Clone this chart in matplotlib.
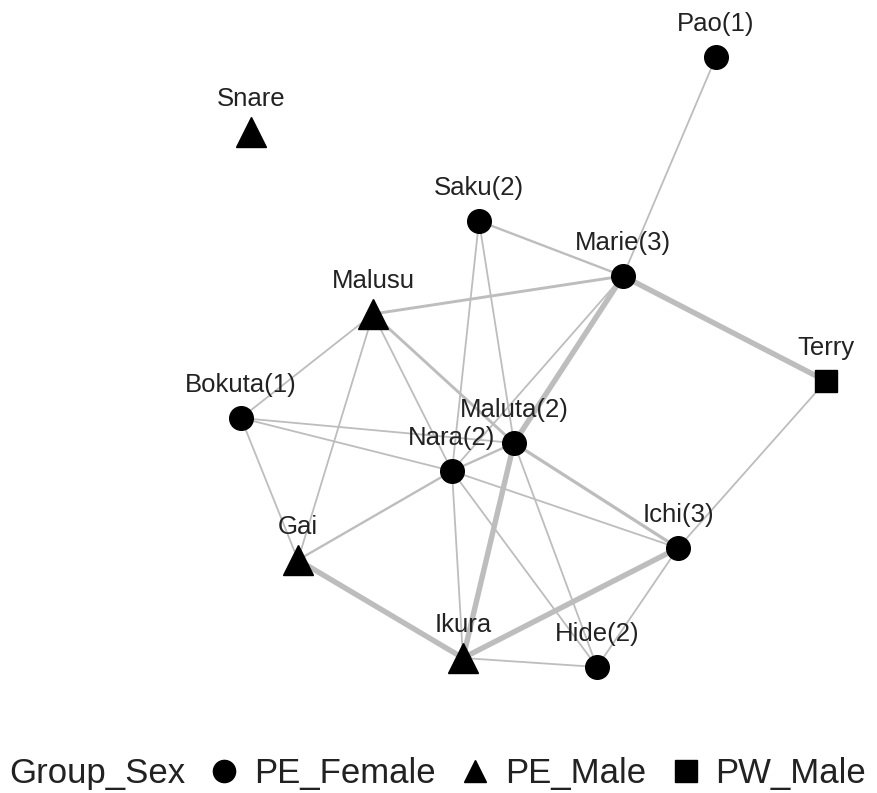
import matplotlib.pyplot as plt
from matplotlib.lines import Line2D

plt.rcParams['font.family'] = ['Liberation Sans', 'DejaVu Sans']

# node layout (pixel positions)
names = ['Pao(1)', 'Snare', 'Saku(2)', 'Marie(3)', 'Malusu', 'Terry', 'Bokuta(1)',
         'Maluta(2)', 'Nara(2)', 'Ichi(3)', 'Gai', 'Ikura', 'Hide(2)']
node_x = [716, 251, 479, 623, 373, 826, 241, 514, 452, 678, 298, 463, 597]
node_y = [57, 132, 221, 276, 314, 381, 418, 443, 471, 548, 560, 658, 667]
group = ['PE_Female', 'PE_Male', 'PE_Female', 'PE_Female', 'PE_Male', 'PW_Male', 'PE_Female',
         'PE_Female', 'PE_Female', 'PE_Female', 'PE_Male', 'PE_Male', 'PE_Female']

# edges: (from, to, weight)
edges = [
    ('Pao(1)', 'Marie(3)', 1),
    ('Saku(2)', 'Marie(3)', 1.3),
    ('Saku(2)', 'Nara(2)', 1),
    ('Saku(2)', 'Maluta(2)', 1),
    ('Marie(3)', 'Malusu', 1.6),
    ('Marie(3)', 'Terry', 3),
    ('Marie(3)', 'Maluta(2)', 3),
    ('Marie(3)', 'Nara(2)', 1),
    ('Malusu', 'Bokuta(1)', 1),
    ('Malusu', 'Gai', 1),
    ('Malusu', 'Nara(2)', 1),
    ('Malusu', 'Maluta(2)', 1.6),
    ('Bokuta(1)', 'Nara(2)', 1),
    ('Bokuta(1)', 'Maluta(2)', 1),
    ('Bokuta(1)', 'Gai', 1),
    ('Nara(2)', 'Gai', 1.3),
    ('Nara(2)', 'Maluta(2)', 1.3),
    ('Nara(2)', 'Ikura', 1),
    ('Nara(2)', 'Hide(2)', 1),
    ('Nara(2)', 'Ichi(3)', 1),
    ('Maluta(2)', 'Ichi(3)', 1.8),
    ('Maluta(2)', 'Hide(2)', 1),
    ('Maluta(2)', 'Ikura', 3),
    ('Gai', 'Ikura', 3),
    ('Ikura', 'Ichi(3)', 3),
    ('Ikura', 'Hide(2)', 1),
    ('Ichi(3)', 'Hide(2)', 1),
    ('Ichi(3)', 'Terry', 1),
]

markers = {'PE_Female': 'o', 'PE_Male': '^', 'PW_Male': 's'}
msizes = {'PE_Female': 17, 'PE_Male': 21, 'PW_Male': 16}

fig = plt.figure(figsize=(8.77, 7.93), dpi=100)
ax = fig.add_axes([0, 0, 1, 1])
ax.set_xlim(0, 877)
ax.set_ylim(793, 0)
ax.axis('off')

pos = {n: (x, y) for n, x, y in zip(names, node_x, node_y)}
for a, b, w in edges:
    ax.plot([pos[a][0], pos[b][0]], [pos[a][1], pos[b][1]],
            color='#bdbdbd', lw=1.3 * w, solid_capstyle='round', zorder=1)

for n, x, y, g in zip(names, node_x, node_y, group):
    ax.plot(x, y, marker=markers[g], ms=msizes[g], color='black', ls='none', zorder=3)
    ax.annotate(n, (x, y), xytext=(0, 33), textcoords='offset pixels',
                ha='center', va='center', fontsize=18.5, color='#222222', zorder=4)

fig.text(0.011, 0.025, 'Group_Sex', fontsize=25, color='#222222', va='center')
handles = [Line2D([], [], marker=markers[g], ms=16, color='black', ls='none')
           for g in ['PE_Female', 'PE_Male', 'PW_Male']]
fig.legend(handles, ['PE_Female', 'PE_Male', 'PW_Male'], loc='center left',
           bbox_to_anchor=(0.24, 0.025), ncol=3, frameon=False, fontsize=25,
           handletextpad=0.45, columnspacing=0.75, handlelength=0.8, borderaxespad=0,
           borderpad=0, labelcolor='#222222')

plt.savefig('out.png', dpi=100)
